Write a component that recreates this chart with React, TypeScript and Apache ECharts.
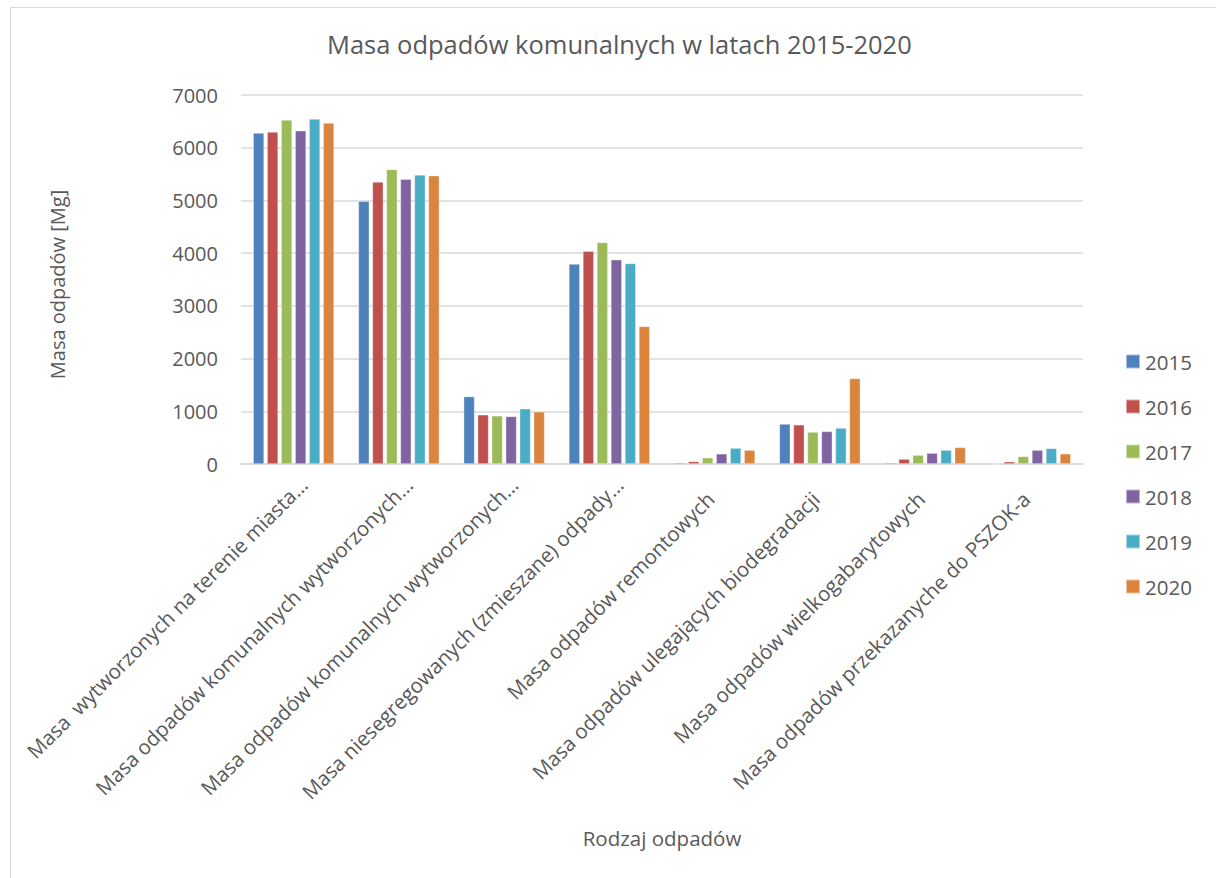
import React, { useEffect, useRef } from "react";
import * as echarts from "echarts";

const categories = [
  "Masa  wytworzonych na terenie miasta…",
  "Masa odpadów komunalnych wytworzonych…",
  "Masa odpadów komunalnych wytworzonych…",
  "Masa niesegregowanych (zmieszane) odpady…",
  "Masa odpadów remontowych",
  "Masa odpadów ulegających biodegradacji",
  "Masa odpadów wielkogabarytowych",
  "Masa odpadów przekazanyche do PSZOK-a",
];

const years = ["2015", "2016", "2017", "2018", "2019", "2020"];

const v2015 = [6280, 4985, 1280, 3795, 25, 760, 25, 0];
const v2016 = [6300, 5350, 935, 4040, 50, 745, 95, 45];
const v2017 = [6530, 5590, 915, 4205, 120, 607, 170, 145];
const v2018 = [6325, 5405, 905, 3875, 195, 620, 208, 265];
const v2019 = [6545, 5485, 1050, 3805, 303, 683, 265, 297];
const v2020 = [6470, 5470, 992, 2612, 265, 1625, 316, 196];

const seriesValues = [v2015, v2016, v2017, v2018, v2019, v2020];
const colors = ["#4F81BD", "#C0504D", "#9BBB59", "#8064A2", "#4BACC6", "#DB843D"];

const FONT = "'Open Sans', sans-serif";
const TXT = "#595959";

export default function App() {
  const ref = useRef<HTMLDivElement>(null);
  useEffect(() => {
    if (!ref.current) return;
    const chart = echarts.init(ref.current, undefined, { renderer: "svg" });
    const axisData = categories.map((c) =>
      c.endsWith("…") ? { value: c, textStyle: { padding: [0, -14, 14, 0] } } : c
    );
    chart.setOption({
      animation: false,
      backgroundColor: "#ffffff",
      color: colors,
      title: {
        text: "Masa odpadów komunalnych w latach 2015-2020",
        left: 322,
        top: 26,
        textStyle: { fontFamily: FONT, fontSize: 25.5, fontWeight: "normal", color: TXT },
      },
      graphic: [
        {
          type: "rect",
          shape: { x: 10.5, y: 7.5, width: 1300, height: 1000 },
          style: { fill: "none", stroke: "#d9d9d9", lineWidth: 1 },
          silent: true,
        },
      ],
      legend: {
        orient: "vertical",
        left: 1125,
        top: 351,
        padding: 0,
        itemWidth: 14,
        itemHeight: 14,
        itemGap: 24,
        icon: "rect",
        textStyle: { fontFamily: FONT, fontSize: 20.5, color: TXT, lineHeight: 21 },
        data: years,
      },
      grid: { left: 241, right: 133, top: 95, bottom: 414, containLabel: false },
      xAxis: {
        type: "category",
        data: axisData,
        name: "Rodzaj odpadów",
        nameLocation: "middle",
        nameGap: 363,
        nameTextStyle: { fontFamily: FONT, fontSize: 20.5, color: TXT },
        axisLine: { lineStyle: { color: "#d9d9d9", width: 1.5 } },
        axisTick: { show: false },
        axisLabel: {
          rotate: 45,
          interval: 0,
          margin: 27,
          padding: [0, 6, 0, 0],
          fontFamily: FONT,
          fontSize: 20.5,
          color: TXT,
        },
      },
      yAxis: {
        type: "value",
        min: 0,
        max: 7000,
        interval: 1000,
        name: "Masa odpadów [Mg]",
        nameLocation: "middle",
        nameGap: 174,
        nameTextStyle: { fontFamily: FONT, fontSize: 20, color: TXT, padding: [0, 10, 0, 0] },
        axisLine: { show: false },
        axisTick: { show: false },
        axisLabel: {
          fontFamily: FONT,
          fontSize: 20,
          color: TXT,
          margin: 23,
          formatter: (v: number) => String(v),
        },
        splitLine: { lineStyle: { color: "#d9d9d9", width: 1.5 } },
      },
      series: years.map((y, i) => ({
        name: y,
        type: "bar",
        data: seriesValues[i],
        barCategoryGap: "23%",
        barGap: "27%",
        itemStyle: { color: colors[i], borderColor: "rgba(255,255,255,0.5)", borderWidth: 0.7 },
      })),
    });
    return () => chart.dispose();
  }, []);
  return (
    <div
      ref={ref}
      style={{ position: "absolute", left: 0, top: 0, width: 1216, height: 878 }}
    />
  );
}
